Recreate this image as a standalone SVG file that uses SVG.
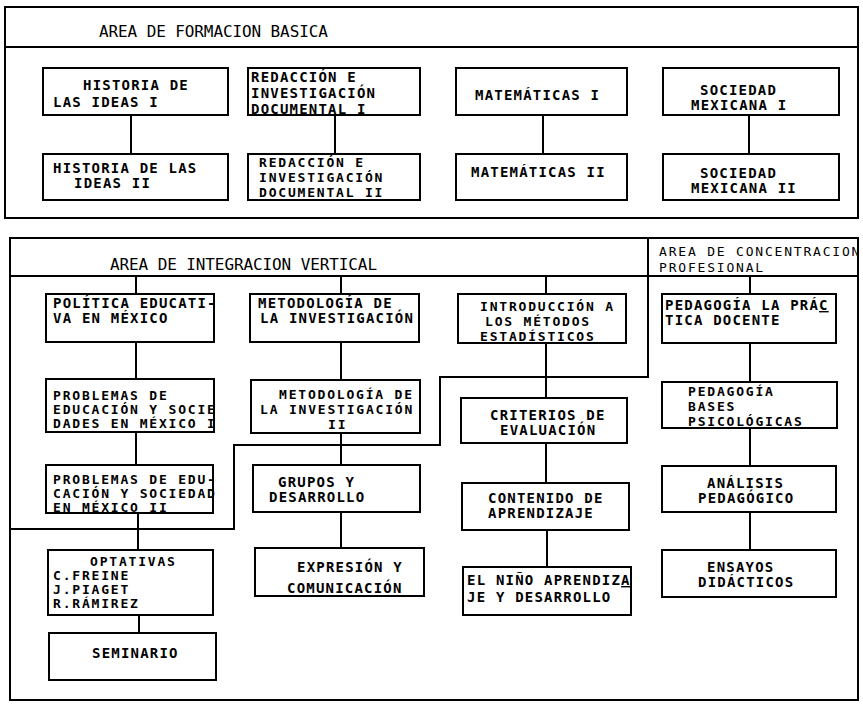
<svg xmlns="http://www.w3.org/2000/svg" width="863" height="704" viewBox="0 0 863 704">
  <style>
    .frame { fill: none; stroke: #000; stroke-width: 2; }
    .box { fill: #fff; stroke: #000; stroke-width: 2; }
    .wire { fill: none; stroke: #000; stroke-width: 2; }
    .head { font-family: "DejaVu Sans Mono", "Liberation Mono", monospace; font-size: 16px; letter-spacing: -0.1px; fill: #000; }
    .head-s { font-family: "DejaVu Sans Mono", "Liberation Mono", monospace; font-size: 13px; letter-spacing: 1.8px; fill: #000; }
    .lbl { font-family: "DejaVu Sans Mono", "Liberation Mono", monospace; font-size: 14px; font-weight: bold; letter-spacing: 1.2px; fill: #000; }
    .tight { font-size: 13px; letter-spacing: 1.8px; }
    .ul { text-decoration: underline; }
  </style>
  <rect width="863" height="704" fill="#fff"/>

  <!-- area frames -->
  <g id="area-basica">
    <rect class="frame" x="5" y="7" width="853" height="211"/>
    <line class="frame" x1="5" y1="47" x2="858" y2="47"/>
    <text class="head" x="99" y="37">AREA DE FORMACION BASICA</text>
  </g>
  <g id="area-vertical">
    <rect class="frame" x="10" y="238" width="848" height="462"/>
    <line class="frame" x1="10" y1="276" x2="858" y2="276"/>
    <text class="head" x="110" y="270">AREA DE INTEGRACION VERTICAL</text>
  </g>
  <g id="area-profesional">
    <text class="head-s" x="659" y="256">AREA DE CONCENTRACION</text>
    <text class="head-s" x="659" y="272">PROFESIONAL</text>
  </g>

  <!-- connectors -->
  <g id="connectors">
    <path class="wire" d="M131,115 V154 M335,115 V154 M543,115 V154 M749,115 V154"/>
    <path class="wire" d="M136,276 V294 M136,342 V379 M136,432 V465 M138,513 V550 M139,615 V633"/>
    <path class="wire" d="M341,276 V294 M341,342 V380 M341,433 V465 M341,512 V548"/>
    <path class="wire" d="M546,276 V294 M546,343 V398 M546,443 V483 M547,530 V567"/>
    <path class="wire" d="M750,276 V294 M750,343 V382 M750,428 V466 M750,512 V550"/>
    <!-- boundary between vertical integration and professional areas -->
    <path class="wire" d="M648,238 V377 H440 V445 H234 V529 H10"/>
  </g>

  <!-- basic formation -->
  <g id="historia-1">
    <rect class="box" x="43" y="68" width="185" height="47"/>
    <text class="lbl" x="83" y="90">HISTORIA DE</text>
    <text class="lbl" x="53" y="107">LAS IDEAS I</text>
  </g>
  <g id="historia-2">
    <rect class="box" x="43" y="154" width="185" height="46"/>
    <text class="lbl" x="53" y="173">HISTORIA DE LAS</text>
    <text class="lbl" x="74" y="188">IDEAS II</text>
  </g>
  <g id="redaccion-1">
    <rect class="box" x="248" y="68" width="172" height="47"/>
    <text class="lbl" x="251" y="82">REDACCIÓN E</text>
    <text class="lbl" x="251" y="98">INVESTIGACIÓN</text>
    <text class="lbl" x="251" y="114">DOCUMENTAL I</text>
  </g>
  <g id="redaccion-2">
    <rect class="box" x="248" y="154" width="172" height="46"/>
    <text class="lbl tight" x="259" y="167">REDACCIÓN E</text>
    <text class="lbl tight" x="259" y="182">INVESTIGACIÓN</text>
    <text class="lbl tight" x="259" y="197">DOCUMENTAL II</text>
  </g>
  <g id="matematicas-1">
    <rect class="box" x="456" y="68" width="171" height="47"/>
    <text class="lbl" x="475" y="100">MATEMÁTICAS I</text>
  </g>
  <g id="matematicas-2">
    <rect class="box" x="456" y="154" width="171" height="46"/>
    <text class="lbl" x="471" y="177">MATEMÁTICAS II</text>
  </g>
  <g id="sociedad-1">
    <rect class="box" x="663" y="68" width="176" height="47"/>
    <text class="lbl" x="700" y="95">SOCIEDAD</text>
    <text class="lbl" x="691" y="110">MEXICANA I</text>
  </g>
  <g id="sociedad-2">
    <rect class="box" x="663" y="154" width="176" height="46"/>
    <text class="lbl" x="700" y="178">SOCIEDAD</text>
    <text class="lbl" x="691" y="193">MEXICANA II</text>
  </g>

  <!-- vertical integration, column 1 -->
  <g id="politica">
    <rect class="box" x="46" y="294" width="168" height="48"/>
    <text class="lbl" x="53" y="308">POLÍTICA EDUCATI-</text>
    <text class="lbl" x="53" y="323">VA EN MÉXICO</text>
  </g>
  <g id="problemas-1">
    <rect class="box" x="46" y="379" width="168" height="53"/>
    <text class="lbl tight" x="53" y="400">PROBLEMAS DE</text>
    <text class="lbl tight" x="53" y="414">EDUCACIÓN Y SOCIE</text>
    <text class="lbl tight" x="53" y="428">DADES EN MÉXICO I</text>
  </g>
  <g id="problemas-2">
    <rect class="box" x="46" y="465" width="167" height="48"/>
    <text class="lbl tight" x="53" y="484">PROBLEMAS DE EDU-</text>
    <text class="lbl tight" x="53" y="498">CACIÓN Y SOCIEDAD</text>
    <text class="lbl tight" x="53" y="512">EN MÉXICO II</text>
  </g>
  <g id="optativas">
    <rect class="box" x="48" y="550" width="165" height="65"/>
    <text class="lbl tight" x="90" y="566">OPTATIVAS</text>
    <text class="lbl tight" x="53" y="580">C.FREINE</text>
    <text class="lbl tight" x="53" y="594">J.PIAGET</text>
    <text class="lbl tight" x="53" y="608">R.RÁMIREZ</text>
  </g>
  <g id="seminario">
    <rect class="box" x="49" y="633" width="167" height="47"/>
    <text class="lbl" x="92" y="658">SEMINARIO</text>
  </g>

  <!-- vertical integration, column 2 -->
  <g id="metodologia-1">
    <rect class="box" x="250" y="294" width="169" height="48"/>
    <text class="lbl" x="258" y="308">METODOLOGÍA DE</text>
    <text class="lbl" x="260" y="323">LA INVESTIGACIÓN</text>
  </g>
  <g id="metodologia-2">
    <rect class="box" x="251" y="380" width="169" height="53"/>
    <text class="lbl tight" x="279" y="399">METODOLOGÍA DE</text>
    <text class="lbl tight" x="260" y="414">LA INVESTIGACIÓN</text>
    <text class="lbl tight" x="328" y="429">II</text>
  </g>
  <g id="grupos">
    <rect class="box" x="253" y="465" width="167" height="47"/>
    <text class="lbl" x="278" y="487">GRUPOS Y</text>
    <text class="lbl" x="269" y="502">DESARROLLO</text>
  </g>
  <g id="expresion">
    <rect class="box" x="255" y="548" width="169" height="48"/>
    <text class="lbl" x="297" y="572">EXPRESIÓN Y</text>
    <text class="lbl" x="287" y="593">COMUNICACIÓN</text>
  </g>

  <!-- vertical integration, column 3 -->
  <g id="introduccion">
    <rect class="box" x="458" y="294" width="168" height="49"/>
    <text class="lbl tight" x="480" y="311">INTRODUCCIÓN A</text>
    <text class="lbl tight" x="485" y="326">LOS MÉTODOS</text>
    <text class="lbl tight" x="480" y="341">ESTADÍSTICOS</text>
  </g>
  <g id="criterios">
    <rect class="box" x="461" y="398" width="166" height="45"/>
    <text class="lbl" x="490" y="420">CRITERIOS DE</text>
    <text class="lbl" x="500" y="435">EVALUACIÓN</text>
  </g>
  <g id="contenido">
    <rect class="box" x="462" y="483" width="167" height="47"/>
    <text class="lbl" x="488" y="503">CONTENIDO DE</text>
    <text class="lbl" x="488" y="518">APRENDIZAJE</text>
  </g>
  <g id="nino">
    <rect class="box" x="463" y="567" width="168" height="48"/>
    <text class="lbl" x="467" y="585">EL NIÑO APRENDIZ<tspan class="ul">A</tspan></text>
    <text class="lbl" x="467" y="602">JE Y DESARROLLO</text>
  </g>

  <!-- professional concentration -->
  <g id="practica-docente">
    <rect class="box" x="662" y="294" width="174" height="49"/>
    <text class="lbl" x="665" y="310">PEDAGOGÍA LA PRÁ<tspan class="ul">C</tspan></text>
    <text class="lbl" x="665" y="325">TICA DOCENTE</text>
  </g>
  <g id="bases-psicologicas">
    <rect class="box" x="662" y="382" width="175" height="46"/>
    <text class="lbl tight" x="688" y="396">PEDAGOGÍA</text>
    <text class="lbl tight" x="688" y="411">BASES</text>
    <text class="lbl tight" x="688" y="426">PSICOLÓGICAS</text>
  </g>
  <g id="analisis">
    <rect class="box" x="662" y="466" width="174" height="46"/>
    <text class="lbl" x="707" y="488">ANÁLISIS</text>
    <text class="lbl" x="698" y="503">PEDAGÓGICO</text>
  </g>
  <g id="ensayos">
    <rect class="box" x="662" y="550" width="174" height="47"/>
    <text class="lbl" x="707" y="572">ENSAYOS</text>
    <text class="lbl" x="698" y="587">DIDÁCTICOS</text>
  </g>
</svg>
